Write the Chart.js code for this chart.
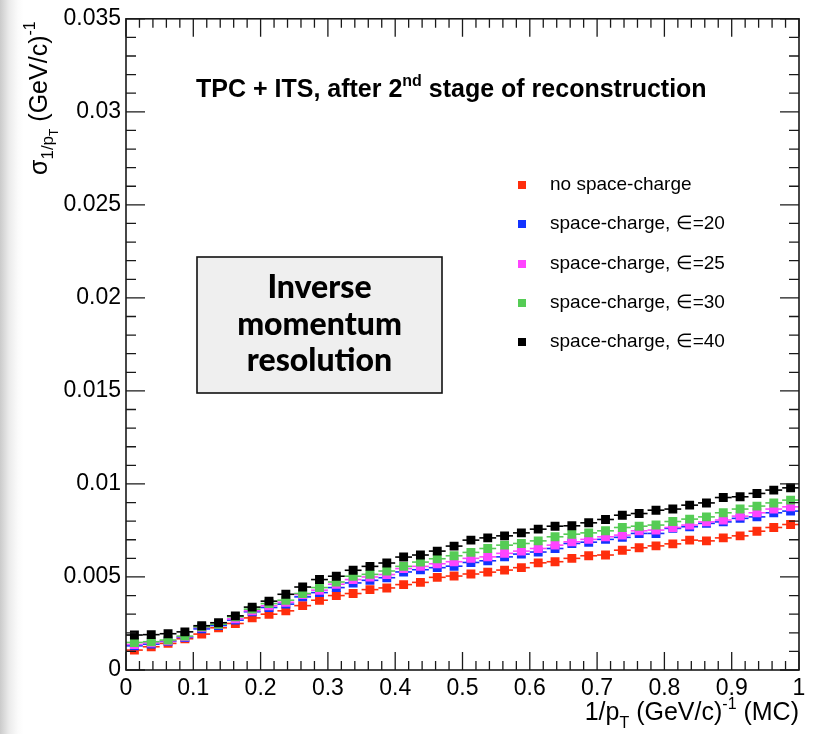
<!DOCTYPE html>
<html>
<head>
<meta charset="utf-8">
<script src="https://cdn.jsdelivr.net/npm/chart.js@4.4.1/dist/chart.umd.min.js"></script>
<style>
  html, body { margin: 0; padding: 0; width: 817px; height: 734px; overflow: hidden;
    background: linear-gradient(to right, #cbcbcb 0px, #ebebeb 9px, #fbfbfb 18px, #fff 24px); }
  #wrap { position: relative; width: 817px; height: 734px; }
</style>
</head>
<body>
<div id="wrap"><canvas id="chart" width="817" height="734"></canvas></div>
<script>
// bins of 1/pT (MC), width 0.025
const binCenters = [0.0125, 0.0375, 0.0625, 0.0875, 0.1125, 0.1375, 0.1625, 0.1875, 0.2125, 0.2375,
  0.2625, 0.2875, 0.3125, 0.3375, 0.3625, 0.3875, 0.4125, 0.4375, 0.4625, 0.4875,
  0.5125, 0.5375, 0.5625, 0.5875, 0.6125, 0.6375, 0.6625, 0.6875, 0.7125, 0.7375,
  0.7625, 0.7875, 0.8125, 0.8375, 0.8625, 0.8875, 0.9125, 0.9375, 0.9625, 0.9875];
const binHalf = 0.0125;

const noSpaceCharge = [0.00107, 0.00125, 0.00143, 0.00168, 0.00193, 0.00227, 0.0025, 0.0028, 0.003, 0.00318,
  0.00346, 0.00375, 0.004, 0.00411, 0.00432, 0.00441, 0.00459, 0.00471, 0.00498, 0.00505,
  0.00516, 0.00526, 0.00537, 0.0055, 0.00576, 0.00582, 0.006, 0.00614, 0.00618, 0.00644,
  0.00657, 0.00667, 0.00678, 0.00698, 0.00694, 0.0071, 0.00721, 0.00746, 0.00766, 0.00782];
const sc20 = [0.0013, 0.00139, 0.00154, 0.00175, 0.00221, 0.00239, 0.00268, 0.00313, 0.00336, 0.00354,
  0.00393, 0.00416, 0.00443, 0.00468, 0.00482, 0.00496, 0.00527, 0.00539, 0.0055, 0.00558,
  0.00578, 0.00587, 0.00608, 0.00623, 0.00634, 0.00653, 0.0068, 0.00687, 0.00702, 0.00713,
  0.00734, 0.00734, 0.00761, 0.0077, 0.00788, 0.00796, 0.00815, 0.00823, 0.00845, 0.00854];
const sc25 = [0.00137, 0.00146, 0.00157, 0.00179, 0.00229, 0.00246, 0.00275, 0.00318, 0.00345, 0.00364,
  0.00405, 0.00429, 0.00461, 0.00486, 0.005, 0.00513, 0.00545, 0.00557, 0.00571, 0.00582,
  0.006, 0.00608, 0.00627, 0.00639, 0.00653, 0.00671, 0.00689, 0.00702, 0.00716, 0.00725,
  0.00748, 0.00752, 0.00766, 0.00779, 0.00796, 0.00806, 0.00827, 0.00845, 0.00865, 0.00877];
const sc30 = [0.00148, 0.00152, 0.00161, 0.00182, 0.00232, 0.00246, 0.00286, 0.00327, 0.00357, 0.00375,
  0.00411, 0.00443, 0.00473, 0.00504, 0.00514, 0.00532, 0.00557, 0.0058, 0.00598, 0.00614,
  0.00632, 0.00653, 0.00671, 0.0068, 0.00694, 0.00716, 0.0073, 0.00737, 0.00748, 0.00766,
  0.00773, 0.00779, 0.00798, 0.00811, 0.00823, 0.00845, 0.00865, 0.00881, 0.00898, 0.00913];
const sc40 = [0.00188, 0.0019, 0.00195, 0.00205, 0.00238, 0.00254, 0.00291, 0.00338, 0.0037, 0.00407,
  0.00446, 0.00486, 0.00504, 0.00536, 0.00557, 0.00575, 0.00607, 0.00618, 0.00639, 0.00666,
  0.00698, 0.0071, 0.00721, 0.00737, 0.00757, 0.00773, 0.00775, 0.00791, 0.00809, 0.00832,
  0.00841, 0.00859, 0.00865, 0.00886, 0.00898, 0.00927, 0.00931, 0.00949, 0.00967, 0.00979];

const seriesLabels = ['no space-charge', 'space-charge, \u2208=20', 'space-charge, \u2208=25',
  'space-charge, \u2208=30', 'space-charge, \u2208=40'];
const seriesColors = ['#ff2d0c', '#1233ff', '#ff44ff', '#55cc55', '#000000'];
const seriesValues = [noSpaceCharge, sc20, sc25, sc30, sc40];

const xTickValues = [0, 0.1, 0.2, 0.3, 0.4, 0.5, 0.6, 0.7, 0.8, 0.9, 1];
const xTickLabels = ['0', '0.1', '0.2', '0.3', '0.4', '0.5', '0.6', '0.7', '0.8', '0.9', '1'];
const yTickValues = [0, 0.005, 0.01, 0.015, 0.02, 0.025, 0.03, 0.035];
const yTickLabels = ['0', '0.005', '0.01', '0.015', '0.02', '0.025', '0.03', '0.035'];

const FONT = '"Liberation Sans", Arial, Helvetica, sans-serif';

// horizontal bars over the bin width, drawn just before each dataset's markers
const binBars = {
  id: 'binBars',
  beforeDatasetDraw(chart, args) {
    const ctx = chart.ctx;
    const xs = chart.scales.x;
    const ds = chart.data.datasets[args.index];
    ctx.save();
    ctx.strokeStyle = ds.pointBackgroundColor;
    ctx.lineWidth = 1.6;
    args.meta.data.forEach((el, i) => {
      const x0 = xs.getPixelForValue(binCenters[i] - binHalf);
      const x1 = xs.getPixelForValue(binCenters[i] + binHalf);
      ctx.beginPath();
      ctx.moveTo(x0, el.y);
      ctx.lineTo(x1, el.y);
      ctx.stroke();
    });
    ctx.restore();
  }
};

// ROOT-style frame with ticks pointing inwards on all four sides
const frame = {
  id: 'frame',
  afterDatasetsDraw(chart) {
    const { ctx, chartArea: a, scales: { x, y } } = chart;
    ctx.save();
    ctx.strokeStyle = '#1a1a1a';
    ctx.lineWidth = 1.3;
    for (let k = 0; k <= 50; k++) {
      const px = x.getPixelForValue(k * 0.02);
      const len = k % 5 === 0 ? 18 : 9;
      ctx.beginPath();
      ctx.moveTo(px, a.bottom); ctx.lineTo(px, a.bottom - len);
      ctx.moveTo(px, a.top); ctx.lineTo(px, a.top + len);
      ctx.stroke();
    }
    for (let k = 0; k <= 35; k++) {
      const py = y.getPixelForValue(k * 0.001);
      const len = k % 5 === 0 ? 19 : 10;
      ctx.beginPath();
      ctx.moveTo(a.left, py); ctx.lineTo(a.left + len, py);
      ctx.moveTo(a.right, py); ctx.lineTo(a.right - len, py);
      ctx.stroke();
    }
    ctx.lineWidth = 1.6;
    ctx.strokeRect(a.left, a.top, a.right - a.left, a.bottom - a.top);
    ctx.restore();
  }
};

// draws a run of text pieces: [text, size, dy, bold]
function richText(ctx, x, y, parts) {
  let cx = x;
  parts.forEach(([t, size, dy, bold]) => {
    ctx.font = (bold ? 'bold ' : '') + size + 'px ' + FONT;
    ctx.fillText(t, cx, y + dy);
    cx += ctx.measureText(t).width;
  });
  return cx;
}
function richWidth(ctx, parts) {
  let w = 0;
  parts.forEach(([t, size, dy, bold]) => {
    ctx.font = (bold ? 'bold ' : '') + size + 'px ' + FONT;
    w += ctx.measureText(t).width;
  });
  return w;
}

const annotations = {
  id: 'annotations',
  afterDraw(chart) {
    const ctx = chart.ctx;
    ctx.save();
    ctx.fillStyle = '#000';
    ctx.textBaseline = 'alphabetic';
    ctx.textAlign = 'left';

    // title
    richText(ctx, 196, 97, [
      ['TPC + ITS, after 2', 25, 0, true],
      ['nd', 16, -11, true],
      [' stage of reconstruction', 25, 0, true]
    ]);

    // legend
    ctx.textBaseline = 'middle';
    ctx.font = '19px ' + FONT;
    const rows = [185, 224, 264, 303, 342];
    seriesLabels.forEach((lab, i) => {
      ctx.fillStyle = seriesColors[i];
      ctx.fillRect(518, rows[i] - 4, 8, 8);
      ctx.fillStyle = '#000';
      ctx.fillText(lab, 550, rows[i]);
    });

    // box
    ctx.fillStyle = '#efefef';
    ctx.fillRect(197, 257, 245, 136);
    ctx.strokeStyle = '#111';
    ctx.lineWidth = 1.6;
    ctx.strokeRect(197, 257, 245, 136);
    ctx.fillStyle = '#000';
    ctx.textAlign = 'center';
    ctx.textBaseline = 'alphabetic';
    ctx.font = '900 32px Lato, "Open Sans", sans-serif';
    ctx.fillText('Inverse', 319.5, 298);
    ctx.fillText('momentum', 319.5, 335);
    ctx.fillText('resolution', 319.5, 371);

    // x title, right aligned at the frame
    ctx.textAlign = 'left';
    const xt = [
      ['1/p', 25, 0], ['T', 16, 8], [' (GeV/c)', 25, 0], ['-1', 16, -11], [' (MC)', 25, 0]
    ];
    const w = richWidth(ctx, xt);
    richText(ctx, chart.chartArea.right - w, 720, xt);

    // y title, rotated
    ctx.translate(47, 175);
    ctx.rotate(-Math.PI / 2);
    richText(ctx, 0, 0, [
      ['\u03c3', 25, 0], ['1/p', 17, 6], ['T', 12, 11], [' (GeV/c)', 25, 0], ['-1', 16, -12]
    ]);
    ctx.restore();
  }
};

const datasets = seriesValues.map((vals, i) => ({
  label: seriesLabels[i],
  data: vals.map((v, j) => ({ x: binCenters[j], y: v })),
  showLine: false,
  pointStyle: 'rect',
  pointRadius: 6.3,
  pointBorderWidth: 0,
  pointBackgroundColor: seriesColors[i],
  pointBorderColor: seriesColors[i],
  order: seriesValues.length - i
}));

new Chart(document.getElementById('chart'), {
  type: 'scatter',
  data: { datasets },
  options: {
    responsive: false,
    animation: false,
    layout: { padding: { left: 0, right: 18, top: 18, bottom: 0 } },
    plugins: { legend: { display: false }, tooltip: { enabled: false } },
    scales: {
      x: {
        type: 'linear', min: 0, max: 1,
        afterBuildTicks: s => { s.ticks = xTickValues.map(v => ({ value: v })); },
        afterFit: s => { s.height = 64; },
        ticks: {
          callback: (v, i) => xTickLabels[i],
          font: { family: FONT, size: 23 }, color: '#000', padding: 5,
          maxRotation: 0, autoSkip: false
        },
        grid: { display: false, drawTicks: false },
        border: { display: false }
      },
      y: {
        type: 'linear', min: 0, max: 0.035,
        afterBuildTicks: s => { s.ticks = yTickValues.map(v => ({ value: v })); },
        afterFit: s => { s.width = 126; },
        ticks: {
          callback: (v, i) => yTickLabels[i],
          font: { family: FONT, size: 23 }, color: '#000', padding: 5,
          autoSkip: false
        },
        grid: { display: false, drawTicks: false },
        border: { display: false }
      }
    }
  },
  plugins: [binBars, frame, annotations]
});
</script>
</body>
</html>
